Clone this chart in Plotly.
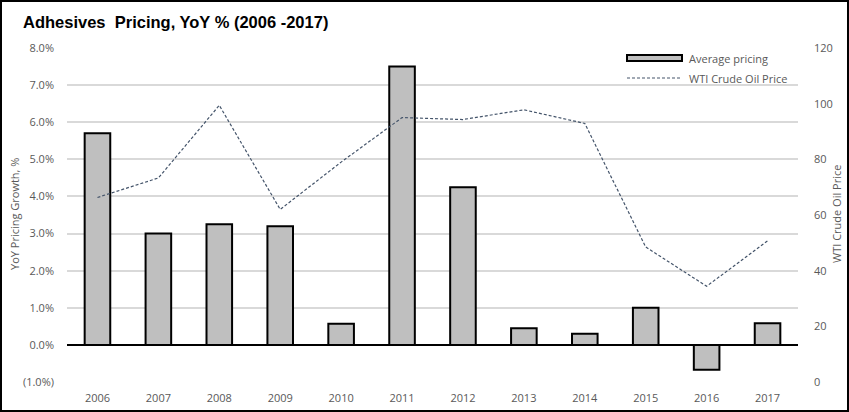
import plotly.graph_objects as go

years = ["2006", "2007", "2008", "2009", "2010", "2011", "2012", "2013", "2014", "2015", "2016", "2017"]
avg_pricing = [5.7, 3.0, 3.25, 3.2, 0.57, 7.5, 4.25, 0.45, 0.3, 1.0, -0.67, 0.58]
wti_price = [66.3, 73.3, 99.4, 62.0, 79.0, 95.0, 94.3, 97.8, 92.9, 48.5, 34.4, 50.7]

left_tickvals = [-1, 0, 1, 2, 3, 4, 5, 6, 7, 8]
left_ticktext = ["(1.0%)", "0.0%", "1.0%", "2.0%", "3.0%", "4.0%", "5.0%", "6.0%", "7.0%", "8.0%"]
right_tickvals = [0, 20, 40, 60, 80, 100, 120]

W, H = 849, 412
ML, MR, MT, MB = 67, 51, 48, 30
PW, PH = W - ML - MR, H - MT - MB

gray = "#595959"
font_fam = "Open Sans, Liberation Sans, Arial, sans-serif"
bar_fill = "#bfbfbf"
line_col = "#44546a"


def px_x(x):
    return (x - ML) / PW


def px_y(y):
    return (H - MB - y) / PH


fig = go.Figure()
fig.add_trace(go.Bar(
    x=years, y=avg_pricing, name="Average pricing",
    marker=dict(color=bar_fill, line=dict(color="black", width=2)),
    width=0.42, yaxis="y",
))
fig.add_trace(go.Scatter(
    x=years, y=wti_price, name="WTI Crude Oil Price", mode="lines",
    line=dict(color=line_col, width=1.2, dash="3px,2px"),
    yaxis="y2",
))

fig.update_layout(
    width=W, height=H,
    margin=dict(l=ML, r=MR, t=MT, b=MB, pad=0),
    paper_bgcolor="white", plot_bgcolor="white",
    font=dict(family=font_fam, size=11, color=gray),
    title=dict(text="<b>Adhesives  Pricing, YoY % (2006 -2017)</b>",
               font=dict(family="Liberation Sans, Arial, sans-serif", size=16.5, color="black"),
               x=23 / W, xref="container", xanchor="left",
               y=1 - 22 / H, yref="container", yanchor="middle"),
    bargap=0.5,
    showlegend=False,
    xaxis=dict(type="category", showgrid=False, showline=False, ticks="",
               ticklabelstandoff=8, automargin=False,
               tickfont=dict(size=11, color=gray)),
    yaxis=dict(range=[-1, 8], tickvals=left_tickvals, ticktext=left_ticktext,
               showgrid=True, gridcolor="#d9d9d9", gridwidth=1.5,
               zeroline=True, zerolinecolor="black", zerolinewidth=2,
               showline=False, ticks="", ticklabelstandoff=12, automargin=False,
               tickfont=dict(size=11, color=gray)),
    yaxis2=dict(range=[0, 120], tickvals=right_tickvals, overlaying="y", side="right",
                showgrid=False, zeroline=False, showline=False, ticks="",
                ticklabelstandoff=15, automargin=False,
                tickfont=dict(size=11, color=gray)),
)

# axis titles
fig.add_annotation(text="YoY Pricing Growth, %", xref="paper", yref="paper",
                   x=px_x(14), y=px_y(214), textangle=-90, showarrow=False,
                   xanchor="center", yanchor="middle", font=dict(size=11, color=gray))
fig.add_annotation(text="WTI Crude Oil Price", xref="paper", yref="paper",
                   x=px_x(836), y=px_y(214), textangle=-90, showarrow=False,
                   xanchor="center", yanchor="middle", font=dict(size=11, color=gray))

# legend (drawn manually to match wide legend keys)
fig.add_shape(type="rect", xref="paper", yref="paper",
              x0=px_x(627), x1=px_x(682), y0=px_y(61), y1=px_y(55),
              line=dict(color="black", width=2), fillcolor=bar_fill)
fig.add_annotation(text="Average pricing", xref="paper", yref="paper",
                   x=px_x(687), y=px_y(58), showarrow=False, xanchor="left", yanchor="middle",
                   font=dict(size=11, color=gray))
fig.add_shape(type="line", xref="paper", yref="paper",
              x0=px_x(627), x1=px_x(682), y0=px_y(78), y1=px_y(78),
              line=dict(color=line_col, width=1.2, dash="3px,2px"))
fig.add_annotation(text="WTI Crude Oil Price", xref="paper", yref="paper",
                   x=px_x(687), y=px_y(78), showarrow=False, xanchor="left", yanchor="middle",
                   font=dict(size=11, color=gray))

# outer black border of the whole chart
fig.add_shape(type="rect", xref="paper", yref="paper",
              x0=px_x(1), x1=px_x(W - 1), y0=px_y(H - 1), y1=px_y(1),
              line=dict(color="black", width=2), fillcolor="rgba(0,0,0,0)", layer="above")

fig.write_html("out.html")
